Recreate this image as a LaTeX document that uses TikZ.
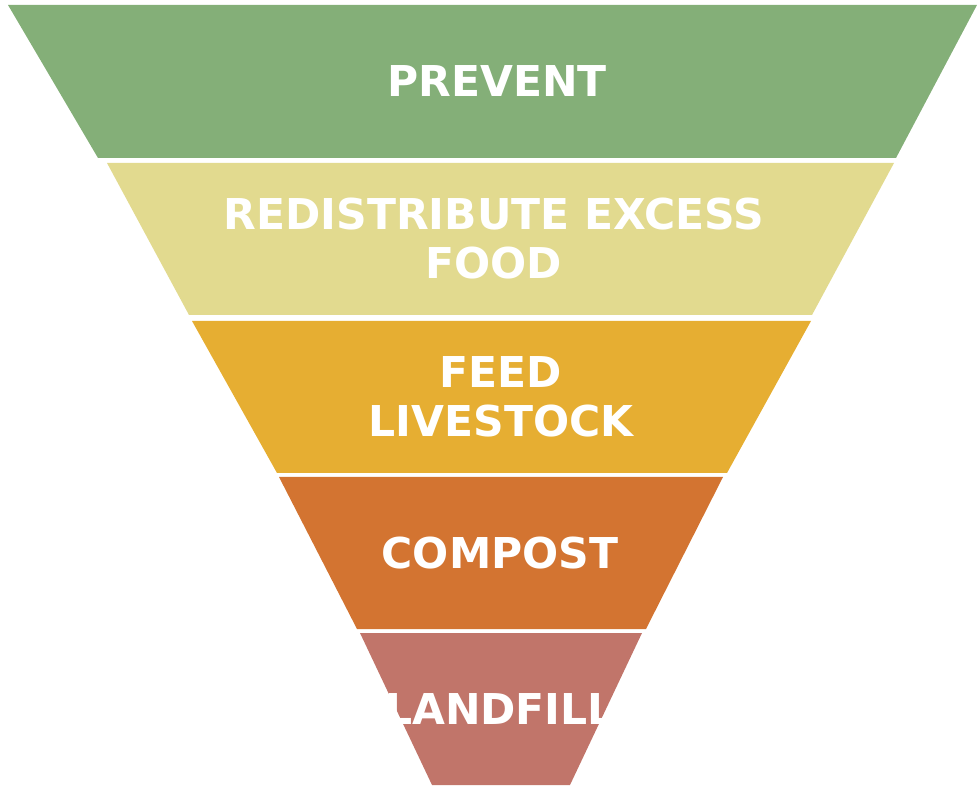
\documentclass[tikz,border=0pt]{standalone}
\usepackage{fontspec}
\setmainfont{DejaVu Sans}
\usepackage{xcolor}
\usepackage{tikz}
\usetikzlibrary{positioning}
\definecolor{preventgreen}{HTML}{84AF78}
\definecolor{redistyellow}{HTML}{E2DA8F}
\definecolor{feedorange}{HTML}{E6AE32}
\definecolor{compostorange}{HTML}{D37431}
\definecolor{landfillred}{HTML}{C1756A}
\tikzset{
  tierlabel/.style={
    text=white,
    font=\bfseries\fontsize{42.5}{49}\selectfont,
    align=center,
    inner sep=0pt
  }
}

\begin{document}
\begin{tikzpicture}[x=1pt, y=1pt]
  \useasboundingbox (0,0) rectangle (977,785);
  % funnel tiers, widest on top
  \fill[preventgreen]  (8,780)   -- (977,780) -- (896,627) -- (98,627)  -- cycle;
  \fill[redistyellow]  (107,622) -- (894,622) -- (812,470) -- (189,470) -- cycle;
  \fill[feedorange]    (192,464) -- (811,464) -- (727,312) -- (277,312) -- cycle;
  \fill[compostorange] (279,308) -- (723,308) -- (646,156) -- (357,156) -- cycle;
  \fill[landfillred]   (360,152) -- (642,152) -- (570,0)   -- (432,0)   -- cycle;
  % labels
  \node[tierlabel] (prevent)  at (497,703.5) {PREVENT};
  \node[tierlabel] (redist)   at (494,546)   {REDISTRIBUTE EXCESS\\FOOD};
  \node[tierlabel] (feed)     at (501,388)   {FEED\\LIVESTOCK};
  \node[tierlabel] (compost)  at (500,232)   {COMPOST};
  \node[tierlabel] (landfill) at (500,76)    {LANDFILL};
\end{tikzpicture}
\end{document}
